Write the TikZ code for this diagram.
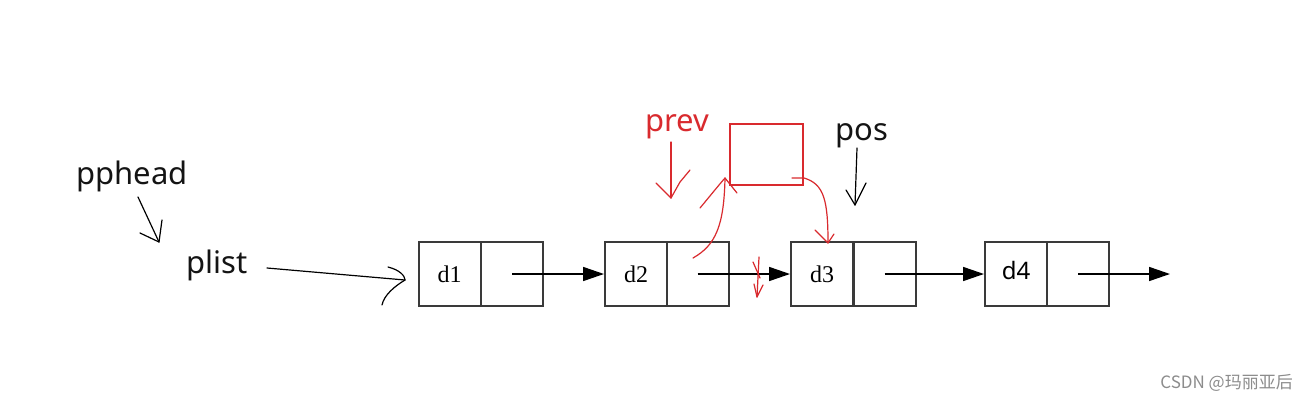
\documentclass[tikz,border=0pt]{standalone}
\usepackage{fontspec}
\setmainfont{Liberation Serif}
\newfontfamily\sansf{Noto Sans}
\newfontfamily\cjkf{Noto Sans CJK SC}
\usetikzlibrary{arrows.meta}
\definecolor{boxgray}{HTML}{3A3A3A}
\definecolor{hred}{HTML}{D92A2E}
\tikzset{
  cell/.style={draw=boxgray, line width=2pt, minimum width=62pt, minimum height=64pt, inner sep=0pt, font=\fontsize{24}{24}\selectfont},
  linkarr/.style={draw=black, line width=1.6pt, -{Triangle[length=21pt,width=14pt]}},
  lbl/.style={font=\sansf\fontsize{31}{31}\selectfont, inner sep=0pt, text=black!92},
  hand/.style={line width=1.2pt, line cap=round, line join=round},
  redhand/.style={hand, draw=hred},
}
\begin{document}
\begin{tikzpicture}[x=1pt,y=-1pt]
\useasboundingbox (0,0) rectangle (1308,402);
\fill[white] (0,0) rectangle (1308,402);

% list nodes
\node[cell] (d1) at (449.5,274) {d1};
\node[cell] (n1) at (512,274) {};
\node[cell] (d2) at (636,274) {d2};
\node[cell] (n2) at (697.5,274) {};
\node[cell] (d3) at (822,274) {d3};
\node[cell] (n3) at (884.5,274) {};
\node[cell, font=\sansf\fontsize{24}{24}\selectfont] (d4) at (1016,274) {\raisebox{8pt}{d4}};
\node[cell] (n4) at (1078,274) {};
\coordinate (nullend) at (1170,274);

\draw[linkarr] (n1.center) -- (d2.west);
\draw[linkarr] (n2.center) -- (d3.west);
\draw[linkarr] (n3.center) -- (d4.west);
\draw[linkarr] (n4.center) -- (nullend);

% new red node
\node[draw=hred, line width=1.2pt, minimum width=73pt, minimum height=61pt, inner sep=0pt] (new) at (766.5,154.5) {};

% labels
\node[lbl] (pphead) at (132,176) {pphead};
\node[lbl] (plist) at (217,265) {plist};
\node[lbl, text=hred] (prev) at (677,127) {prev};
\node[lbl] (pos) at (862,136) {pos};

% pphead -> plist
\coordinate (a1s) at (138,197);
\coordinate (a1t) at (159,242);
\draw[hand] (a1s) -- (a1t);
\draw[hand] (140,233) -- (a1t) -- (162,220);

% plist -> d1
\coordinate (a2s) at (267,268);
\coordinate (a2t) at (405,280);
\draw[hand] (a2s) -- (a2t);
\draw[hand] (388,267) .. controls (400,270) and (405,276) .. (a2t);
\draw[hand] (382,305) .. controls (384,295) and (395,286) .. (a2t);

% prev arrow
\coordinate (pvs) at (671,142);
\coordinate (pvt) at (671,198);
\draw[redhand] (pvs) -- (pvt);
\draw[redhand] (656,183) -- (661,188) -- (pvt) -- (680,182) -- (690,170);

% pos arrow
\coordinate (pss) at (857,148);
\coordinate (pst) at (855,205);
\draw[hand] (pss) -- (pst);
\draw[hand] (846,190) -- (pst) -- (866,183);

% red: d2.next -> new node
\coordinate (r1s) at (693,258);
\coordinate (r1t) at (725,178);
\draw[redhand] (r1s) .. controls (716,245) and (724,225) .. (r1t);
\draw[redhand] (700,208) .. controls (710,196) and (718,186) .. (r1t) -- (737,193);

% red: new node -> d3
\coordinate (r2s) at (792,178);
\coordinate (r2t) at (828,243);
\draw[redhand] (r2s) -- (804,178) .. controls (824,184) and (828,200) .. (r2t);
\draw[redhand] (815,230) -- (r2t) -- (834,234);

% red cut mark on d2 -> d3 link
\coordinate (cutt) at (757,297);
\draw[redhand] (759,257) -- (cutt);
\draw[redhand] (753,262) -- (760,278);
\draw[redhand] (754,284) -- (cutt) -- (763,285);

% watermark
\node[font=\cjkf\fontsize{17}{17}\selectfont, text=black!45, anchor=east, inner sep=0pt] (wm) at (1293,383) {CSDN @玛丽亚后};
\end{tikzpicture}
\end{document}
